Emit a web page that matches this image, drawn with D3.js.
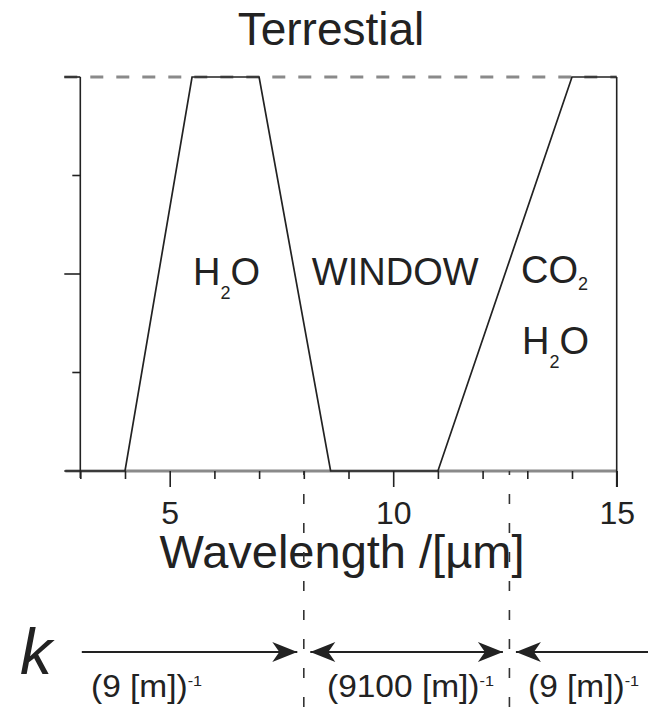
<!DOCTYPE html>
<html>
<head>
<meta charset="utf-8">
<script src="https://cdn.jsdelivr.net/npm/d3@7"></script>
<style>
  html, body { margin: 0; padding: 0; background: #fff; }
  svg { display: block; }
  text { font-family: "Liberation Sans", Arial, Helvetica, sans-serif; fill: #222; }
</style>
</head>
<body>
<svg id="chart" width="648" height="708"></svg>
<script>
// Idealised absorption profile (0 = transparent, 1 = fully absorbing) vs wavelength in µm
const wavelength = [3, 4, 5.5, 7, 8.6, 11, 14, 15];
const absorption = [0, 0, 1, 1, 0, 0, 1, 1];

// Axis ticks
const xMajorTicks = [5, 10, 15];
const xMinorTicks = [3, 4, 6, 7, 8, 9, 11, 12, 13, 14];
const yMajorTicks = [0, 0.5, 1];
const yMinorTicks = [0.25, 0.75];

// Band edges separating the three absorption-coefficient regimes
const bandEdges = [8, 12.6];

// Region labels inside the plot (position in data units)
const regionLabels = [
  { parts: ["H", "2", "O"], x: 5.52, y: 0.473 },
  { parts: ["WINDOW", "", ""], x: 8.18, y: 0.473 },
  { parts: ["CO", "2", ""], x: 12.86, y: 0.476, sub: 7 },
  { parts: ["H", "2", "O"], x: 12.88, y: 0.297 }
];

// Absorption coefficient for each regime
const kLabels = ["(9 [m])", "(9100 [m])", "(9 [m])"];
const kExponent = "-1";

const svg = d3.select("#chart");

const x = d3.scaleLinear().domain([3, 15]).range([80.3, 616.7]);
const y = d3.scaleLinear().domain([0, 1]).range([471, 77]);

const ink = "#222";

// Reference levels: full absorption (dashed) and zero absorption (solid), both grey
svg.append("line")
  .attr("x1", x(3) - 16).attr("x2", x(15))
  .attr("y1", y(1)).attr("y2", y(1))
  .attr("stroke", "#8a8a8a").attr("stroke-width", 3)
  .attr("stroke-dasharray", "13,13");
svg.append("line")
  .attr("x1", x(3) - 15).attr("x2", x(15))
  .attr("y1", y(0)).attr("y2", y(0))
  .attr("stroke", "#8a8a8a").attr("stroke-width", 3);

// Left axis, ticks pointing outward
const leftAxis = svg.append("g").attr("transform", `translate(${x(3)},0)`);
leftAxis.append("line").attr("y1", y(1)).attr("y2", y(0) + 7)
  .attr("stroke", ink).attr("stroke-width", 1.6);
leftAxis.selectAll(".ymaj").data(yMajorTicks).join("line")
  .attr("x1", -16).attr("x2", 0).attr("y1", d => y(d)).attr("y2", d => y(d))
  .attr("stroke", ink).attr("stroke-width", 1.6);
leftAxis.selectAll(".ymin").data(yMinorTicks).join("line")
  .attr("x1", -8).attr("x2", 0).attr("y1", d => y(d)).attr("y2", d => y(d))
  .attr("stroke", ink).attr("stroke-width", 1.6);

// Right frame line
svg.append("line")
  .attr("x1", x(15)).attr("x2", x(15))
  .attr("y1", y(1)).attr("y2", y(0) + 16)
  .attr("stroke", ink).attr("stroke-width", 1.6);

// Bottom axis: major ticks labelled, minor ticks unlabelled
const bottom = svg.append("g").attr("transform", `translate(0,${y(0)})`);
bottom.append("g")
  .call(d3.axisBottom(x).tickValues(xMajorTicks).tickSize(16).tickPadding(14)
    .tickFormat(d3.format("d")))
  .call(g => g.select(".domain").remove())
  .call(g => g.selectAll(".tick line").attr("stroke", ink).attr("stroke-width", 1.6))
  .call(g => g.selectAll(".tick text")
    .attr("font-family", "Liberation Sans, Arial, sans-serif")
    .attr("font-size", 32).attr("fill", ink));
bottom.append("g")
  .call(d3.axisBottom(x).tickValues(xMinorTicks).tickSize(8).tickFormat(""))
  .call(g => g.select(".domain").remove())
  .call(g => g.selectAll(".tick line").attr("stroke", ink).attr("stroke-width", 1.6));

// Absorption profile
const line = d3.line().x((d, i) => x(wavelength[i])).y(d => y(d));
svg.append("path")
  .datum(absorption)
  .attr("d", line)
  .attr("fill", "none")
  .attr("stroke", ink)
  .attr("stroke-width", 1.7)
  .attr("stroke-linejoin", "miter");

// Region labels
regionLabels.forEach(l => {
  const t = svg.append("text")
    .attr("x", x(l.x)).attr("y", y(l.y))
    .attr("font-size", 38);
  t.append("tspan").text(l.parts[0]);
  if (l.parts[1]) {
    const shift = l.sub || 14;
    t.append("tspan").attr("font-size", 18).attr("dy", shift).text(l.parts[1]);
    if (l.parts[2]) t.append("tspan").attr("dy", -shift).text(l.parts[2]);
  }
});

// Title
svg.append("text")
  .attr("x", 331).attr("y", 45)
  .attr("text-anchor", "middle")
  .attr("font-size", 46)
  .text("Terrestial");

// Axis title
svg.append("text")
  .attr("x", 342).attr("y", 568)
  .attr("text-anchor", "middle")
  .attr("font-size", 47)
  .text("Wavelength /[µm]");

// Band edges, dashed, running from the axis to the bottom of the figure
svg.selectAll(".edge").data(bandEdges).join("line")
  .attr("x1", d => x(d)).attr("x2", d => x(d))
  .attr("y1", y(0)).attr("y2", 708)
  .attr("stroke", "#333").attr("stroke-width", 1.6)
  .attr("stroke-dasharray", "10,19")
  .attr("stroke-dashoffset", 6);

// Arrowhead marker
const defs = svg.append("defs");
defs.append("marker")
  .attr("id", "head")
  .attr("viewBox", "-26 -11 27 22")
  .attr("refX", 0).attr("refY", 0)
  .attr("markerWidth", 27).attr("markerHeight", 22)
  .attr("markerUnits", "userSpaceOnUse")
  .attr("orient", "auto-start-reverse")
  .append("path")
  .attr("d", "M0,0 L-25,-10 L-18,0 L-25,10 Z")
  .attr("fill", ink);

// k regimes: arrows between the band edges
const arrowY = 652;
const edgesPx = [x(3) + 1.5, ...bandEdges.map(x), 648];
const gap = 6.5;
const arrows = [
  { x1: edgesPx[0], x2: edgesPx[1] - gap, start: false, end: true },
  { x1: edgesPx[1] + gap, x2: edgesPx[2] - gap, start: true, end: true },
  { x1: edgesPx[2] + gap, x2: edgesPx[3], start: true, end: false }
];
svg.selectAll(".arrow").data(arrows).join("line")
  .attr("x1", d => d.x1).attr("x2", d => d.x2)
  .attr("y1", arrowY).attr("y2", arrowY)
  .attr("stroke", ink).attr("stroke-width", 2)
  .attr("marker-start", d => d.start ? "url(#head)" : null)
  .attr("marker-end", d => d.end ? "url(#head)" : null);

svg.append("text")
  .attr("x", 20).attr("y", 674)
  .attr("font-size", 64)
  .attr("font-style", "italic")
  .text("k");

// Coefficient labels, set slightly wide
const kStarts = [91, 327, 528];
kLabels.forEach((s, i) => {
  const t = svg.append("text")
    .attr("transform", `translate(${kStarts[i]},697) scale(1.08,1)`)
    .attr("font-size", 31);
  t.append("tspan").text(s);
  t.append("tspan").attr("font-size", 15).attr("dy", -11).text(kExponent);
});
</script>
</body>
</html>
